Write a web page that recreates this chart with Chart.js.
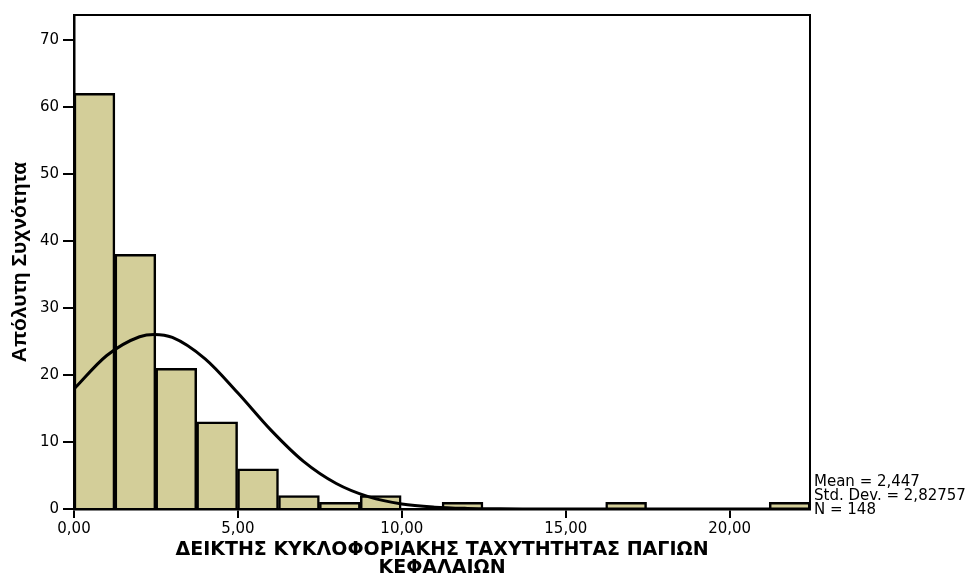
<!DOCTYPE html>
<html>
<head>
<meta charset="utf-8">
<script src="https://cdn.jsdelivr.net/npm/chart.js@4/dist/chart.umd.min.js"></script>
<style>
  html, body { margin: 0; padding: 0; background: #fff; }
  #wrap { width: 971px; height: 577px; }
</style>
</head>
<body>
<div id="wrap"><canvas id="histChart" width="971" height="577"></canvas></div>
<script>
// histogram bins (width), counts per bin
const binWidth = 1.2475;
const binCounts = [62, 38, 21, 13, 6, 2, 1, 2, 0, 1, 0, 0, 0, 1, 0, 0, 0, 1];

// fitted normal curve
const curveX = [0, 1, 2, 2.45, 3, 4, 5, 6, 7, 8, 9, 10, 11, 12, 13, 14, 16, 18, 20, 22.45];
const curveY = [17.9, 22.9, 25.7, 26.05, 25.6, 22.4, 17.3, 11.8, 7.1, 3.8, 1.8, 0.73, 0.27, 0.09, 0.03, 0.01, 0, 0, 0, 0];

// tick labels
const xTicks = [0, 5, 10, 15, 20];
const yTicks = [0, 10, 20, 30, 40, 50, 60, 70];
const xMax = 22.45;
const yMax = 73.7;

const xTitle = ['ΔΕΙΚΤΗΣ ΚΥΚΛΟΦΟΡΙΑΚΗΣ ΤΑΧΥΤΗΤΗΤΑΣ ΠΑΓΙΩΝ', 'ΚΕΦΑΛΑΙΩΝ'];
const yTitle = 'Απόλυτη Συχνότητα';
const statsLines = ['Mean = 2,447', 'Std. Dev. = 2,82757', 'N = 148'];

const barData = binCounts.map((c, i) => ({ x: (i + 0.5) * binWidth, y: c === 0 ? null : c }));
const curveData = curveX.map((x, i) => ({ x: x, y: curveY[i] }));

// box around the plot plus the stats text on the right
const frameAndStats = {
  id: 'frameAndStats',
  beforeDatasetsDraw(chart) {
    const { ctx, chartArea } = chart;
    ctx.save();
    ctx.strokeStyle = '#000';
    ctx.lineWidth = 2;
    ctx.strokeRect(chartArea.left, chartArea.top, chartArea.right - chartArea.left, chartArea.bottom - chartArea.top);
    ctx.restore();
  },
  afterDraw(chart) {
    const { ctx, chartArea } = chart;
    ctx.save();
    ctx.fillStyle = '#000';
    ctx.font = '15px "DejaVu Sans", Arial, sans-serif';
    ctx.textAlign = 'left';
    ctx.textBaseline = 'alphabetic';
    const offsets = [-23, -9, 5];
    statsLines.forEach((line, i) => {
      ctx.fillText(line, chartArea.right + 4, chartArea.bottom + offsets[i]);
    });
    ctx.restore();
  }
};

const tickFont = { family: '"DejaVu Sans", Arial, sans-serif', size: 15 };

new Chart(document.getElementById('histChart'), {
  type: 'bar',
  data: {
    datasets: [
      {
        type: 'line',
        data: curveData,
        borderColor: '#000',
        borderWidth: 3,
        pointRadius: 0,
        fill: false,
        cubicInterpolationMode: 'monotone',
        order: 0
      },
      {
        type: 'bar',
        data: barData,
        backgroundColor: '#d3ce99',
        borderColor: '#000',
        borderWidth: 2.5,
        borderSkipped: 'start',
        barPercentage: 1,
        categoryPercentage: 1,
        order: 1
      }
    ]
  },
  options: {
    responsive: false,
    animation: false,
    layout: { padding: { top: 15, right: 161, left: 0, bottom: 0 } },
    plugins: { legend: { display: false }, tooltip: { enabled: false } },
    scales: {
      x: {
        type: 'linear',
        min: 0,
        max: xMax,
        offset: false,
        afterBuildTicks: (s) => { s.ticks = xTicks.map(v => ({ value: v })); },
        afterFit: (s) => { s.height = 68; },
        grid: { display: true, offset: false, drawOnChartArea: false, drawTicks: true, tickLength: 9, color: '#000', lineWidth: 2 },
        border: { display: true, color: '#000', width: 2.5 },
        ticks: {
          color: '#000',
          font: tickFont,
          padding: 2,
          maxRotation: 0,
          autoSkip: false,
          callback: (v) => v.toFixed(2).replace('.', ',')
        },
        title: {
          display: true,
          text: xTitle,
          color: '#000',
          font: { family: '"DejaVu Sans", Arial, sans-serif', size: 19, weight: 'bold', lineHeight: 0.95 },
          padding: { top: 0, bottom: 0 }
        }
      },
      y: {
        min: 0,
        max: yMax,
        afterBuildTicks: (s) => { s.ticks = yTicks.map(v => ({ value: v })); },
        afterFit: (s) => { s.width = 74; },
        grid: { display: true, drawOnChartArea: false, drawTicks: true, tickLength: 11, color: '#000', lineWidth: 2 },
        border: { display: true, color: '#000', width: 2.5 },
        ticks: { color: '#000', font: tickFont, padding: 4 },
        title: {
          display: true,
          text: yTitle,
          color: '#000',
          font: { family: '"Liberation Sans Narrow", "Arial Narrow", "Liberation Sans", Arial, sans-serif', size: 21, weight: 'bold', lineHeight: 1.2 },
          padding: { top: 8, bottom: 0 }
        }
      }
    }
  },
  plugins: [frameAndStats]
});
</script>
</body>
</html>
